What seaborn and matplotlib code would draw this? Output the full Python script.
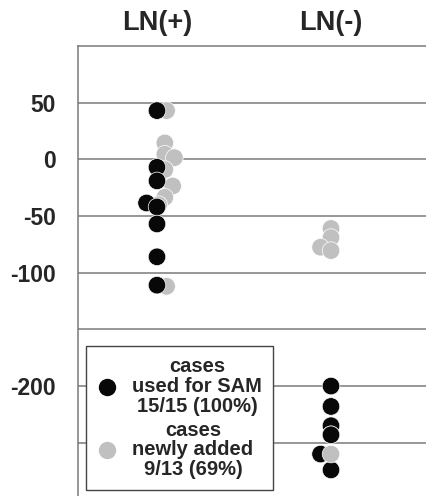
import matplotlib
matplotlib.use("Agg")
import matplotlib.pyplot as plt
import seaborn as sns
import pandas as pd
from matplotlib.lines import Line2D

# ---- data ----
groups = ["LN(+)", "LN(-)"]

# cases used for SAM (black)
sam_group = ["LN(+)"] * 8 + ["LN(-)"] * 7
sam_values = [43, -7, -19, -38.5, -42, -57, -86, -111,
              -200, -218, -235, -243, -260, -274, -243]
sam_jitter = [0, 0, 0, -0.06, 0, 0, 0, 0,
              0, 0, 0, 0, -0.06, 0, 0]

# cases newly added (gray)
new_group = ["LN(+)"] * 9 + ["LN(-)"] * 5
new_values = [43, 14.5, 4.5, 1.5, -9, -23.5, -33.5, -40, -112,
              -61, -69, -77.5, -80.5, -260]
new_jitter = [0.055, 0.045, 0.045, 0.1, 0.045, 0.09, 0.045, 0.01, 0.055,
              0, 0, -0.06, 0, 0]

yticks = [50, 0, -50, -100, -200]
ytick_labels = ["50", "0", "-50", "-100", "-200"]
gridlines = [50, 0, -50, -100, -150, -200, -250]

label_sam = "cases\nused for SAM\n15/15 (100%)"
label_new = "cases\nnewly added\n9/13 (69%)"

# ---- build table (gray LN(+) first, black, then gray LN(-) so stacking matches) ----
n_pos_new = new_group.count("LN(+)")
rows = []
for g, v, j in zip(new_group[:n_pos_new], new_values[:n_pos_new], new_jitter[:n_pos_new]):
    rows.append((g, v, j, "new"))
for g, v, j in zip(sam_group, sam_values, sam_jitter):
    rows.append((g, v, j, "sam"))
for g, v, j in zip(new_group[n_pos_new:], new_values[n_pos_new:], new_jitter[n_pos_new:]):
    rows.append((g, v, j, "new"))
df = pd.DataFrame(rows, columns=["group", "value", "jitter", "kind"])
df["x"] = df["group"].map({g: i for i, g in enumerate(groups)}) + df["jitter"]

# ---- figure ----
sns.set_style("white")
plt.rcParams["font.family"] = ["Liberation Sans", "DejaVu Sans"]
fig = plt.figure(figsize=(4.26, 4.96), dpi=100)
ax = fig.add_axes([78 / 426, 0, 1 - 78 / 426, 1 - 46 / 496])

BLACK = "#080808"
GRAY = "#c0c0c0"
sns.scatterplot(data=df, x="x", y="value", hue="kind",
                palette={"sam": BLACK, "new": GRAY},
                s=160, edgecolor="white", linewidth=0.5,
                legend=False, ax=ax, zorder=3)

for gy in gridlines:
    ax.axhline(gy, color="#7a7a7a", lw=1.1, zorder=1)

ax.set_xlim(-0.454, 1.546)
ax.set_ylim(-297, 100)
ax.set_xlabel("")
ax.set_ylabel("")

ax.set_yticks(yticks)
ax.set_yticklabels(ytick_labels, fontsize=16.5, fontweight="bold")
ax.tick_params(axis="y", length=0, pad=16)

ax.set_xticks(range(len(groups)))
ax.set_xticklabels(groups, fontsize=19.5, fontweight="bold")
ax.xaxis.tick_top()
ax.tick_params(axis="x", length=0, pad=7)

for side in ["right", "bottom"]:
    ax.spines[side].set_visible(False)
for side in ["top", "left"]:
    ax.spines[side].set_color("#7a7a7a")
    ax.spines[side].set_linewidth(1.1)

handles = [
    Line2D([], [], marker="o", linestyle="", markersize=11.5,
           markerfacecolor=BLACK, markeredgecolor=BLACK, label=label_sam),
    Line2D([], [], marker="o", linestyle="", markersize=11.5,
           markerfacecolor=GRAY, markeredgecolor=GRAY, label=label_new),
]
leg = ax.legend(handles=handles, loc="lower left",
                bbox_to_anchor=(0.023, 0.013), frameon=True, fancybox=False,
                prop={"size": 14.5, "weight": "bold"},
                handlelength=1.0, handletextpad=0.75, borderpad=0.55,
                borderaxespad=0, framealpha=1, labelspacing=0.25)
leg.get_frame().set_edgecolor("#444444")
leg.get_frame().set_linewidth(1.0)
for t in leg.get_texts():
    t.set_multialignment("center")
    t.set_linespacing(1.05)
leg.set_zorder(5)

fig.savefig("out.png", dpi=100)
